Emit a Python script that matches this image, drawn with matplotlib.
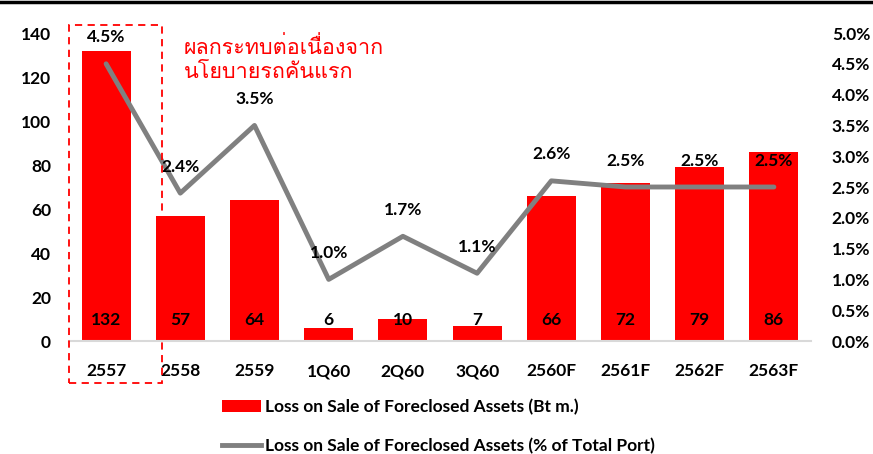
import matplotlib
matplotlib.use("Agg")
import matplotlib.pyplot as plt
from matplotlib import font_manager
from matplotlib.patches import Rectangle, Patch
from matplotlib.lines import Line2D

categories = ["2557", "2558", "2559", "1Q60", "2Q60", "3Q60", "2560F", "2561F", "2562F", "2563F"]
loss_bt = [132, 57, 64, 6, 10, 7, 66, 72, 79, 86]
loss_pct = [4.5, 2.4, 3.5, 1.0, 1.7, 1.1, 2.6, 2.5, 2.5, 2.5]
left_ticks = [0, 20, 40, 60, 80, 100, 120, 140]
right_ticks = [0.0, 0.5, 1.0, 1.5, 2.0, 2.5, 3.0, 3.5, 4.0, 4.5, 5.0]
note_text = "ผลกระทบต่อเนื่องจาก\nนโยบายรถคันแรก"
legend_bar = "Loss on Sale of Foreclosed Assets (Bt m.)"
legend_line = "Loss on Sale of Foreclosed Assets (% of Total Port)"

# find a font with Thai glyphs
thai_font = None
try:
    from fontTools.ttLib import TTFont
    for f in font_manager.fontManager.ttflist:
        try:
            tt = TTFont(f.fname, fontNumber=0, lazy=True)
            cmap = tt.getBestCmap()
            if cmap and 0x0E1C in cmap and 0x0E01 in cmap:
                thai_font = f.name
                break
        except Exception:
            continue
except Exception:
    pass

base_font = "Lato"
plt.rcParams['font.family'] = [base_font, 'DejaVu Sans']
FS = 12.5

fig = plt.figure(figsize=(8.73, 4.54), dpi=100)
ax = fig.add_axes([69/873, 1-341/454, (811-69)/873, (341-33)/454])
ax2 = ax.twinx()

x = list(range(len(categories)))
ax.bar(x, loss_bt, width=0.66, color="#ff0000", zorder=2)
ax.set_xlim(-0.5, len(categories) - 0.5)
ax.set_ylim(0, 140)
ax.set_yticks(left_ticks)
ax.set_yticklabels([str(t) for t in left_ticks], fontsize=FS, fontweight="bold")
ax.set_xticks(x)
ax.set_xticklabels(categories, fontsize=FS, fontweight="bold")
ax.tick_params(axis="both", length=0)
ax.tick_params(axis="x", pad=16)
ax.tick_params(axis="y", pad=13)
for s in ["top", "right", "left"]:
    ax.spines[s].set_visible(False)
ax.spines["bottom"].set_color("#d9d9d9")
ax.spines["bottom"].set_linewidth(1.5)

for xi, v in zip(x, loss_bt):
    ax.text(xi, 9.5, str(v), ha="center", va="center", fontsize=FS, fontweight="bold", zorder=5)

ax2.plot(x, loss_pct, color="#808080", linewidth=3.5, solid_capstyle="round", zorder=3)
ax2.set_ylim(0, 5.0)
ax2.set_yticks(right_ticks)
ax2.set_yticklabels([f"{t:.1f}%" for t in right_ticks], fontsize=FS, fontweight="bold")
ax2.tick_params(axis="y", length=0, pad=15)
for s in ["top", "right", "left", "bottom"]:
    ax2.spines[s].set_visible(False)
for xi, v in zip(x, loss_pct):
    ax2.annotate(f"{v:.1f}%", (xi, v), xytext=(0, 19), textcoords="offset points",
                 ha="center", va="center", fontsize=FS, fontweight="bold")

# dashed highlight box
fig.patches.append(Rectangle((69/873, 1-383/454), (162-69)/873, (383-25)/454,
                             transform=fig.transFigure, fill=False, edgecolor="#ff0000",
                             linestyle=(0, (4, 3)), linewidth=1.3))

fam = [thai_font, base_font, 'DejaVu Sans'] if thai_font else [base_font, 'DejaVu Sans']
fig.text(184/873, 1-60/454, note_text, color="#ff0000", fontsize=15.5, family=fam,
         ha="left", va="center", linespacing=1.15)

# top border line
fig.add_artist(Line2D([0, 1], [1-1.5/454, 1-1.5/454], transform=fig.transFigure, color="black", linewidth=2.5))

handles = [Patch(facecolor="#ff0000", edgecolor="none"),
           Line2D([0], [0], color="#808080", linewidth=3.5)]
leg = fig.legend(handles, [legend_bar, legend_line], loc="upper left",
                 bbox_to_anchor=(222/873, 1-399/454), frameon=False,
                 borderpad=0, borderaxespad=0,
                 prop={"family": base_font, "weight": "bold", "size": FS},
                 handlelength=2.25, handleheight=0.7, labelspacing=1.3, handletextpad=0.25)

fig.savefig("out.png", dpi=100)
